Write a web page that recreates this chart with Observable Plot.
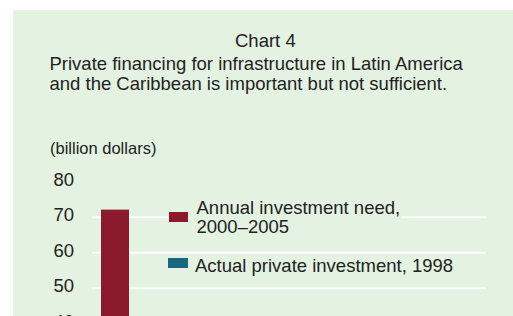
<!DOCTYPE html>
<html>
<head>
<meta charset="utf-8">
<script src="https://cdn.jsdelivr.net/npm/d3@7"></script>
<script src="https://cdn.jsdelivr.net/npm/@observablehq/plot@0.6"></script>
<style>
  html, body { margin: 0; padding: 0; width: 513px; height: 316px; overflow: hidden; background: #fff; }
  body { position: relative; font-family: "Liberation Sans", Arial, Helvetica, sans-serif; color: #222; }
  #panel { position: absolute; left: 13px; top: 10px; width: 500px; height: 306px; background: #e4f2e1; }
  .t { position: absolute; white-space: nowrap; font-size: 18.5px; line-height: 20px; }
  #chart { position: absolute; left: 0; top: 0; }
  .leg { position: absolute; background: #e4f2e1; white-space: nowrap; font-size: 18.5px; line-height: 19px; }
  .sw { position: absolute; }
</style>
</head>
<body>
<div id="panel"></div>
<div id="chart"></div>
<div class="t" id="title" style="left:235px; top:30.6px;"></div>
<div class="t" id="subtitle" style="left:49.5px; top:53.6px;"></div>
<div class="t" id="unit" style="left:50px; top:138.8px; font-size:16.5px; line-height:18px;"></div>
<div id="legend"></div>
<script>
const title = "Chart 4";
const subtitleLines = ["Private financing for infrastructure in Latin America", "and the Caribbean is important but not sufficient."];
const unitLabel = "(billion dollars)";
const categories = ["Annual investment need, 2000–2005", "Actual private investment, 1998"];
const values = [72, 30];
const legendLines = [["Annual investment need,", "2000–2005"], ["Actual private investment, 1998"]];
const yTicks = [0, 10, 20, 30, 40, 50, 60, 70, 80];
const gridValues = [10, 20, 30, 40, 50, 60, 70];
const colors = ["#8b1a2c", "#18687f"];

document.getElementById("title").textContent = title;
document.getElementById("subtitle").innerHTML = subtitleLines.join("<br>");
document.getElementById("unit").textContent = unitLabel;

const data = categories.map((c, i) => ({category: c, value: values[i]}));

const chart = Plot.plot({
  width: 513,
  height: 500,
  marginLeft: 53,
  marginRight: 27,
  marginTop: 181.2,
  marginBottom: 34.8,
  style: {background: "transparent", fontFamily: "'Liberation Sans', Arial, sans-serif", fontSize: "18.5px", color: "#222"},
  x: {type: "band", domain: categories, range: [73, 213], padding: 0.5, axis: null},
  y: {domain: [0, 80], range: [465.2, 181.2], axis: null},
  color: {domain: categories, range: colors},
  marks: [
    Plot.ruleY(gridValues, {stroke: "white", strokeWidth: 2, strokeOpacity: 0.9, insetLeft: 39}),
    Plot.barY(data, {x: "category", y: "value", fill: "category"}),
    Plot.text(yTicks, {y: d => d, text: d => String(d), frameAnchor: "left", textAnchor: "start", dy: -2, fontSize: 18.5, fill: "#222"})
  ]
});
document.getElementById("chart").appendChild(chart);

// legend
const legendPos = [
  {boxLeft: 168, boxTop: 198, swLeft: 1, swTop: 14, textLeft: 28.5},
  {boxLeft: 168, boxTop: 256, swLeft: 0, swTop: 2, textLeft: 27}
];
const legend = document.getElementById("legend");
categories.forEach((c, i) => {
  const p = legendPos[i];
  const box = document.createElement("div");
  box.className = "leg";
  box.style.left = p.boxLeft + "px";
  box.style.top = p.boxTop + "px";
  box.style.paddingRight = "2px";
  const sw = document.createElement("div");
  sw.className = "sw";
  sw.style.left = p.swLeft + "px";
  sw.style.top = p.swTop + "px";
  sw.style.width = (i === 0 ? 19 : 20) + "px";
  sw.style.height = "10px";
  sw.style.background = colors[i];
  box.appendChild(sw);
  const tx = document.createElement("div");
  tx.style.marginLeft = p.textLeft + "px";
  tx.innerHTML = legendLines[i].join("<br>");
  box.appendChild(tx);
  legend.appendChild(box);
});
</script>
</body>
</html>
